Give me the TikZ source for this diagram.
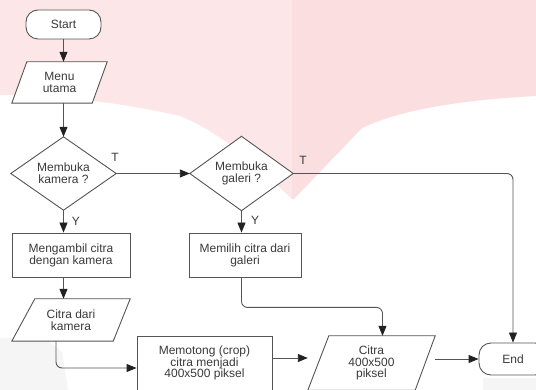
\documentclass[tikz,border=0pt]{standalone}
\usepackage{fontspec}
\setmainfont{Liberation Sans}
\usetikzlibrary{arrows.meta,calc}
\definecolor{ln}{HTML}{555555}
\definecolor{tip}{HTML}{222222}
\definecolor{tx}{HTML}{3A3A3A}
\definecolor{pinkA}{RGB}{253,230,231}
\definecolor{pinkB}{RGB}{251,223,224}
\definecolor{fog}{RGB}{245,245,245}
\tikzset{
  base/.style={inner sep=0pt, align=center, text=tx, font=\fontsize{12}{11.8}\selectfont},
  boxnode/.style={base, draw=ln, line width=0.9pt, fill=white},
  termnode/.style={boxnode, rounded corners=12pt},
  ghost/.style={base},
  shapeline/.style={draw=ln, line width=0.9pt, fill=white},
  arr/.style={draw=ln, line width=0.9pt, -{Triangle[length=10pt,width=8pt,color=tip]}},
  conn/.style={draw=ln, line width=0.9pt},
  lbl/.style={base, text=tx}
}
\begin{document}
\begin{tikzpicture}[x=1pt,y=-1pt]
\useasboundingbox (0,0) rectangle (536,390);
\clip (0,0) rectangle (536,390);
\fill[white] (0,0) rectangle (536,390);
% watermark
\fill[pinkA] (0,0) -- (292,0) -- (292,199) .. controls (250,160) and (220,132) .. (180,116) .. controls (120,102) and (60,96) .. (0,95) -- cycle;
\fill[pinkB] (292,0) -- (536,0) -- (536,96) .. controls (460,100) and (400,110) .. (362,128) -- (294,199) -- (292,199) -- cycle;
\fill[fog] (0,338) -- (45,338) -- (62,352) -- (68,390) -- (0,390) -- cycle;
\fill[fog] (483,378) -- (536,378) -- (536,390) -- (483,390) -- cycle;

% nodes
\node[termnode, minimum width=75pt, minimum height=29pt] (start) at (63.5,24.5) {Start};
\node[ghost, minimum width=95pt, minimum height=41pt] (menu) at (59.5,82.5) {};
\draw[shapeline] ([xshift=15pt]menu.north west) -- (menu.north east) -- ([xshift=-15pt]menu.south east) -- (menu.south west) -- cycle;
\node[base] at (menu) {Menu\\utama};

\node[ghost, minimum width=105pt, minimum height=73pt] (kamera) at (63.5,173.5) {};
\draw[shapeline] (kamera.north) -- (kamera.east) -- (kamera.south) -- (kamera.west) -- cycle;
\node[base] at (kamera) {Membuka\\kamera ?};

\node[ghost, minimum width=103pt, minimum height=74pt] (galeri) at (241.5,173.5) {};
\draw[shapeline] (galeri.north) -- (galeri.east) -- (galeri.south) -- (galeri.west) -- cycle;
\node[base] at (galeri) {Membuka\\galeri ?};

\node[boxnode, minimum width=118pt, minimum height=44pt] (ambil) at (71,255) {Mengambil citra\\dengan kamera};
\node[boxnode, minimum width=112pt, minimum height=44pt] (pilih) at (245,255) {Memilih citra dari\\galeri};

\node[ghost, minimum width=118pt, minimum height=42pt] (citra1) at (71,320) {};
\draw[shapeline] ([xshift=23pt]citra1.north west) -- (citra1.north east) -- ([xshift=-17pt]citra1.south east) -- (citra1.south west) -- cycle;
\node[base] at (citra1) {Citra dari\\kamera};

\node[boxnode, minimum width=135pt, minimum height=54pt] (crop) at (204.5,363) {Memotong (crop)\\citra menjadi\\400x500 piksel};

\node[ghost, minimum width=127pt, minimum height=54pt] (citra2) at (371.5,363) {};
\draw[shapeline] ([xshift=21pt]citra2.north west) -- (citra2.north east) -- ([xshift=-20pt]citra2.south east) -- (citra2.south west) -- cycle;
\node[base] at (citra2) {Citra\\400x500\\piksel};

\node[termnode, minimum width=68pt, minimum height=32pt] (end) at (513,359) {End};

% labels
\node[lbl] (t1) at (115,157) {T};
\node[lbl] (t2) at (303,160) {T};
\node[lbl] (y1) at (76,221) {Y};
\node[lbl] (y2) at (255,220) {Y};

% connectors
\draw[arr] (start.south) -- (start.south |- menu.north);
\draw[arr] (start.south |- menu.south) -- (kamera.north);
\draw[arr] (kamera.east) -- (galeri.west);
\draw[arr, rounded corners=6pt] (galeri.east) -| (end.north);
\draw[arr] (kamera.south) -- (kamera.south |- ambil.north);
\draw[arr] (kamera.south |- ambil.south) -- (kamera.south |- citra1.north);
\draw[arr] (galeri.south) -- (galeri.south |- pilih.north);
\draw[arr, rounded corners=6pt] (galeri.south |- pilih.south) -- ++(0,30) -| ($(citra2.north)+(11,0)$);
\draw[arr, rounded corners=6pt] ($(citra1.south)+(-15,0)$) |- ($(crop.west)+(0,5)$);
\draw[arr] ($(crop.east)+(0,-5)$) -- ($(citra2.west)+(0,-5)$);
\draw[arr] (citra2.east |- end.west) -- (end.west);
\end{tikzpicture}
\end{document}
